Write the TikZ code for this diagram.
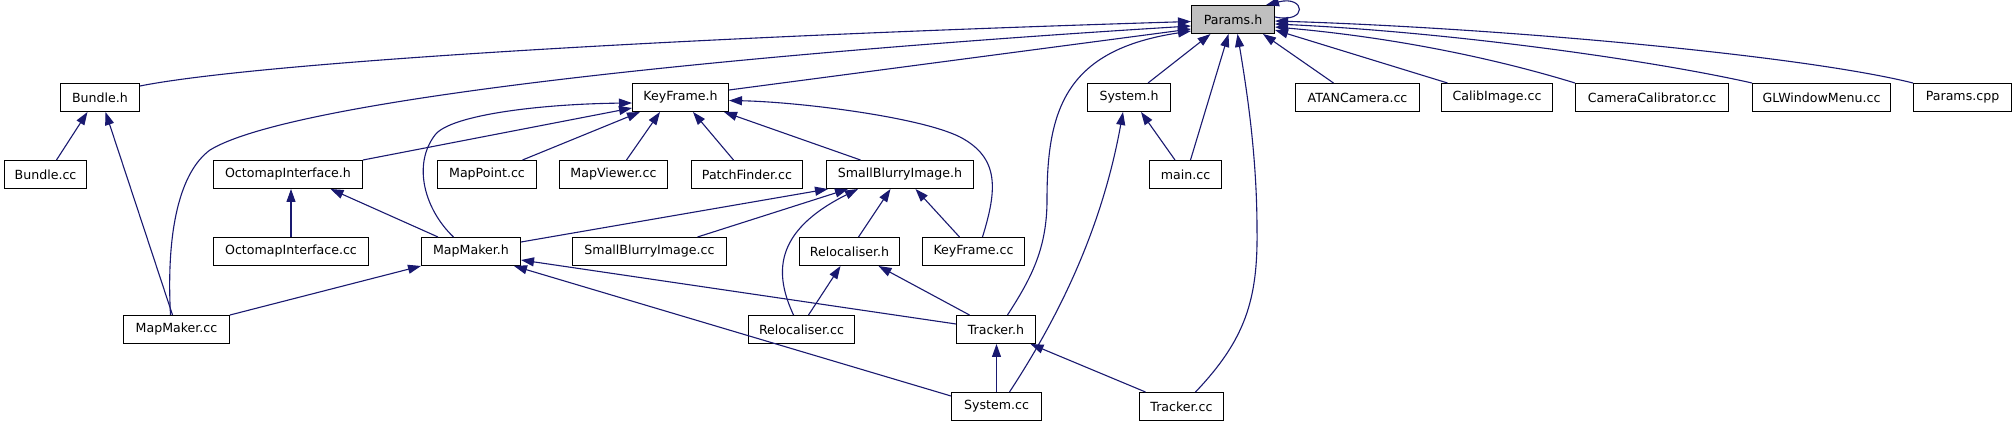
\documentclass[tikz,border=0pt]{standalone}
\usepackage{fontspec}
\setmainfont{DejaVu Sans}
\usetikzlibrary{arrows.meta,calc}
\definecolor{edgeblue}{RGB}{25,25,112}
\definecolor{paramgray}{RGB}{191,191,191}
\begin{document}
\begin{tikzpicture}[x=1pt,y=-1pt,
  box/.style={draw=black,line width=1pt,fill=white,inner sep=0pt,minimum height=28pt,
    font=\fontsize{12.6}{15}\selectfont,text=black},
  edge/.style={draw=edgeblue,line width=1.1pt,-{Triangle[length=13pt,width=9pt]}}]
\fill[white] (0,0) rectangle (2016,427);
\useasboundingbox (0,0) rectangle (2016,427);

% nodes
\node[box,minimum width=83pt,fill=paramgray] (P) at (1233,19.5) {Params.h};
\node[box,minimum width=79pt] (Bh) at (100,97.5) {Bundle.h};
\node[box,minimum width=96pt] (KFh) at (680.5,97.5) {KeyFrame.h};
\node[box,minimum width=83pt] (Sh) at (1129,97.5) {System.h};
\node[box,minimum width=124pt] (ATAN) at (1357.5,97.5) {ATANCamera.cc};
\node[box,minimum width=111pt] (Calib) at (1497,97.5) {CalibImage.cc};
\node[box,minimum width=153pt] (CamCal) at (1652,97.5) {CameraCalibrator.cc};
\node[box,minimum width=138pt] (GLW) at (1821.5,97.5) {GLWindowMenu.cc};
\node[box,minimum width=98pt] (Pcpp) at (1962.5,97.5) {Params.cpp};
\node[box,minimum width=82pt] (Bcc) at (45.5,174.5) {Bundle.cc};
\node[box,minimum width=149pt] (OIh) at (288,174.5) {OctomapInterface.h};
\node[box,minimum width=99pt] (MPcc) at (487,174.5) {MapPoint.cc};
\node[box,minimum width=108pt] (MVcc) at (613.5,174.5) {MapViewer.cc};
\node[box,minimum width=111pt] (PFcc) at (747,174.5) {PatchFinder.cc};
\node[box,minimum width=147pt] (SBIh) at (900,174.5) {SmallBlurryImage.h};
\node[box,minimum width=72pt] (maincc) at (1185.5,174.5) {main.cc};
\node[box,minimum width=155pt] (OIcc) at (291,251.5) {OctomapInterface.cc};
\node[box,minimum width=99pt] (MMh) at (471,251.5) {MapMaker.h};
\node[box,minimum width=154pt] (SBIcc) at (649.5,251.5) {SmallBlurryImage.cc};
\node[box,minimum width=100pt] (RLh) at (849.5,251.5) {Relocaliser.h};
\node[box,minimum width=102pt] (KFcc) at (973.5,251.5) {KeyFrame.cc};
\node[box,minimum width=106pt] (MMcc) at (176.5,329.5) {MapMaker.cc};
\node[box,minimum width=106pt] (RLcc) at (801.5,329.5) {Relocaliser.cc};
\node[box,minimum width=79pt] (Th) at (996,329.5) {Tracker.h};
\node[box,minimum width=90pt] (Scc) at (996.5,406.5) {System.cc};
\node[box,minimum width=84pt] (Tcc) at (1181.5,406.5) {Tracker.cc};

% edges into Params.h
\draw[edge] ($(Bh.north east)+(0,3)$) .. controls (250,64) and (650,38) .. ($(P.north west)+(0,16.5)$);
\draw[edge] ($(MMcc.north)+(-6,0)$) .. controls (166,230) and (180,172) .. (210,150) .. controls (300,95) and (800,50) .. ($(P.north west)+(0,21)$);
\draw[edge] ($(KFh.north east)+(0,7)$) -- ($(P.north west)+(0,24)$);
\draw[edge] ($(Th.north)+(11.5,0)$) .. controls (1030,280) and (1047,250) .. (1047,200) .. controls (1047,110) and (1065,50) .. ($(P.north west)+(0,26)$);
\draw[edge] ($(Sh.north)+(19,0)$) -- ($(P.south)+(-22.5,0)$);
\draw[edge] ($(maincc.north)+(5,0)$) -- ($(P.south)+(-4.5,0)$);
\draw[edge] ($(Tcc.north)+(14,0)$) .. controls (1245,340) and (1258,300) .. (1257,230) .. controls (1257,150) and (1245,80) .. ($(P.south)+(4.5,0)$);
\draw[edge] ($(ATAN.north)+(-24,0)$) -- ($(P.south east)+(-12,0)$);
\draw[edge] ($(Calib.north west)+(6.5,0)$) -- ($(P.north east)+(0,25)$);
\draw[edge] (CamCal.north west) .. controls (1500,60) and (1400,38) .. ($(P.north east)+(0,22)$);
\draw[edge] (GLW.north west) .. controls (1650,60) and (1450,32) .. ($(P.north east)+(0,19)$);
\draw[edge] (Pcpp.north west) .. controls (1800,55) and (1500,28) .. ($(P.north east)+(0,16)$);
\draw[edge] ($(P.north east)+(0,12)$) .. controls (1308,24) and (1306,-5) .. ($(P.north east)+(-9,0)$);

% edges into KeyFrame.h
\draw[edge] (OIh.north east) -- ($(KFh.north west)+(0,25)$);
\draw[edge] ($(MMh.north)+(-17.5,0)$) .. controls (425,210) and (412,165) .. (435,135) .. controls (450,115) and (540,104) .. ($(KFh.north west)+(0,20)$);
\draw[edge] ($(MPcc.north)+(35.5,0)$) -- ($(KFh.south west)+(8,0)$);
\draw[edge] ($(MVcc.north)+(13,0)$) -- ($(KFh.south west)+(28,0)$);
\draw[edge] ($(PFcc.north)+(-13.5,0)$) -- ($(KFh.south west)+(61,0)$);
\draw[edge] ($(SBIh.north)+(-39.5,0)$) -- ($(KFh.south east)+(-5,0)$);
\draw[edge] ($(KFcc.north)+(9,0)$) .. controls (997,190) and (1000,158) .. (960,137) .. controls (920,117) and (800,102) .. ($(KFh.east)+(0,3)$);

% edges into SmallBlurryImage.h
\draw[edge] ($(MMh.north east)+(0,5)$) -- ($(SBIh.south west)+(2,0)$);
\draw[edge] ($(SBIcc.north)+(48,0)$) -- ($(SBIh.south west)+(22,0)$);
\draw[edge] ($(RLcc.north)+(-8,0)$) .. controls (775,275) and (772,232) .. ($(SBIh.south west)+(32,0)$);
\draw[edge] ($(RLh.north)+(9,0)$) -- ($(SBIh.south)+(-9.5,0)$);
\draw[edge] ($(KFcc.north)+(-14,0)$) -- ($(SBIh.south)+(15.5,0)$);

% edges into MapMaker.h
\draw[edge] (MMcc.north east) -- (MMh.south west);
\draw[edge] ($(Th.north west)+(0,9)$) -- ($(MMh.south east)+(0,-6)$);
\draw[edge] ($(Scc.north west)+(0,4)$) -- ($(MMh.south east)+(-7,0)$);

% edges into OctomapInterface.h
\draw[edge] (OIcc.north) -- ($(OIh.south)+(3,0)$);
\draw[edge] ($(MMh.north)+(-33,0)$) -- ($(OIh.south)+(42.5,0)$);

% edges into Bundle.h
\draw[edge] ($(Bcc.north)+(11,0)$) -- ($(Bh.south)+(-12.5,0)$);
\draw[edge] ($(MMcc.north)+(-4,0)$) -- ($(Bh.south)+(5.5,0)$);

% edges into Relocaliser.h
\draw[edge] ($(RLcc.north)+(7,0)$) -- ($(RLh.south)+(-9,0)$);
\draw[edge] ($(Th.north)+(-26.5,0)$) -- ($(RLh.south)+(29,0)$);

% edges into System.h
\draw[edge] ($(maincc.north)+(-10.5,0)$) -- ($(Sh.south)+(12,0)$);
\draw[edge] ($(Scc.north)+(13,0)$) .. controls (1050,330) and (1100,240) .. ($(Sh.south)+(-6,0)$);

% edges into Tracker.h
\draw[edge] (Scc.north) -- ($(Th.south)+(0.5,0)$);
\draw[edge] ($(Tcc.north west)+(6.5,0)$) -- ($(Th.south east)+(-5.5,0)$);
\end{tikzpicture}
\end{document}
